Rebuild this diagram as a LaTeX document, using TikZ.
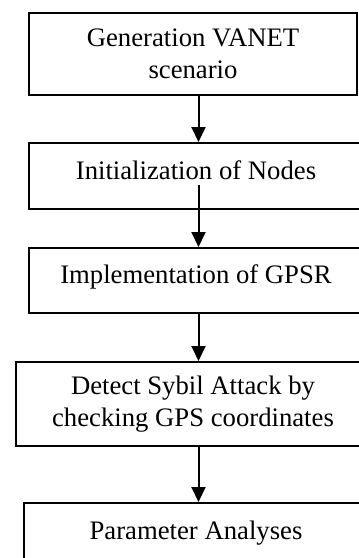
\documentclass[tikz,border=0pt]{standalone}
\usepackage{fontspec}
\setmainfont{Liberation Serif}
\usetikzlibrary{arrows.meta,positioning}
\tikzstyle{process} =
  [ rectangle
  , draw
  , align=center
  , inner sep=0pt
  , font=\fontsize{26.7pt}{32.5pt}\selectfont
  ]
\tikzstyle{oneline} =
  [ text height=18pt
  , text depth=12pt
  ]

\begin{document}
\begin{tikzpicture}[x=1pt,y=-1pt,line width=2pt,>={Triangle[length=15pt,width=14pt]}]
    \useasboundingbox (0,0) rectangle (359,558);
    \clip (0,0) rectangle (359,558);
    \coordinate (axis) at (198.5,0);

    \node[process]         (generation) at (193,54)    [minimum width=328pt,minimum height=82pt] {Generation VANET\\scenario};
    \node[process,oneline] (init_nodes) at (196,176)   [minimum width=334pt,minimum height=66pt] {Initialization of Nodes};
    \node[process,oneline] (gpsr)       at (196,280.5) [minimum width=334pt,minimum height=65pt] {Implementation of GPSR};
    \node[process]         (detect)     at (193,404)   [minimum width=354pt,minimum height=84pt] {Detect Sybil Attack by\\checking GPS coordinates};
    % last box runs off the bottom of the page
    \node[process,anchor=north,text height=18pt,text depth=100pt,inner ysep=18.8pt]
                           (analyses)   at (196,502)   [minimum width=344pt] {Parameter Analyses};

    \coordinate (init_tail) at (198.5,185);

    \draw[->] (generation.south -| axis) -- (init_nodes.north -| axis);
    \draw[->] (init_tail) -- (gpsr.north -| axis);
    \draw[->] (gpsr.south -| axis) -- (detect.north -| axis);
    \draw[->] (detect.south -| axis) -- (analyses.north -| axis);
\end{tikzpicture}
\end{document}
